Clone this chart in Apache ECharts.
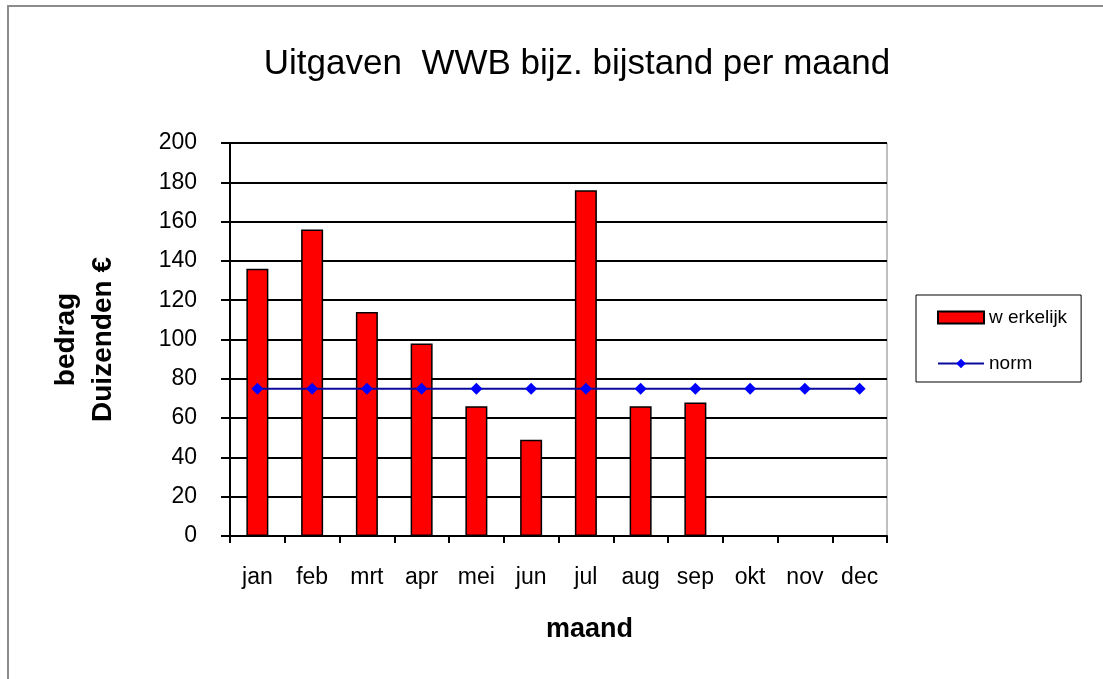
<!DOCTYPE html>
<html>
<head>
<meta charset="utf-8">
<script src="https://cdn.jsdelivr.net/npm/echarts@6/dist/echarts.min.js"></script>
<style>
  html, body { margin: 0; padding: 0; background: #fff; }
  #chart { width: 1103px; height: 679px; }
</style>
</head>
<body>
<div id="chart"></div>
<script>
// maanden
const maanden = ['jan', 'feb', 'mrt', 'apr', 'mei', 'jun', 'jul', 'aug', 'sep', 'okt', 'nov', 'dec'];
// uitgaven werkelijk (duizenden euro), okt-dec nog leeg
const werkelijk = [136, 156, 114, 98, 66, 49, 176, 66, 68, null, null, null];
// norm per maand
const norm = [75, 75, 75, 75, 75, 75, 75, 75, 75, 75, 75, 75];
const yTicks = [0, 20, 40, 60, 80, 100, 120, 140, 160, 180, 200];

const font = 'Liberation Sans, Arial, sans-serif';
const chart = echarts.init(document.getElementById('chart'));

const option = {
  backgroundColor: '#fff',
  animation: false,
  textStyle: { fontFamily: font, color: '#000' },
  title: {
    text: 'Uitgaven  WWB bijz. bijstand per maand',
    left: 572,
    textAlign: 'center',
    top: 42,
    textStyle: { fontFamily: font, fontSize: 35, fontWeight: 'normal', color: '#000' }
  },
  graphic: [
    {
      type: 'rect',
      shape: { x: 8, y: 6, width: 1110, height: 700 },
      style: { fill: null, stroke: '#8c8c8c', lineWidth: 2 },
      z: 0
    }
  ],
  legend: {
    orient: 'vertical',
    left: 916,
    top: 295,
    padding: [13, 14, 9, 21],
    itemGap: 27,
    itemWidth: 46,
    itemHeight: 12,
    borderColor: '#000',
    borderWidth: 1,
    textStyle: { fontFamily: font, fontSize: 19, color: '#000' },
    data: [
      { name: 'w erkelijk', icon: 'rect' },
      { name: 'norm' }
    ]
  },
  grid: { left: 230, right: 216, top: 143, bottom: 143, show: true, borderColor: '#808080', borderWidth: 1, backgroundColor: '#fff' },
  xAxis: {
    type: 'category',
    data: maanden,
    boundaryGap: true,
    name: 'maand',
    nameLocation: 'middle',
    nameGap: 80,
    nameTextStyle: { fontFamily: font, fontSize: 27, fontWeight: 'bold', color: '#000', padding: [0, 0, 0, 62] },
    axisLine: { lineStyle: { color: '#000', width: 2 } },
    axisTick: { show: true, length: 7, lineStyle: { color: '#000', width: 2 } },
    axisLabel: { fontFamily: font, fontSize: 23, color: '#000', margin: 30 }
  },
  yAxis: {
    type: 'value',
    min: yTicks[0],
    max: yTicks[yTicks.length - 1],
    interval: 20,
    name: 'bedrag\nDuizenden €',
    nameLocation: 'middle',
    nameRotate: 90,
    nameGap: 108,
    nameTextStyle: { fontFamily: font, fontSize: 28, fontWeight: 'bold', color: '#000', lineHeight: 37 },
    axisLine: { show: true, lineStyle: { color: '#000', width: 2 } },
    axisTick: { show: true, length: 9, lineStyle: { color: '#000', width: 2 } },
    axisLabel: { fontFamily: font, fontSize: 23, color: '#000', margin: 33 },
    splitLine: { show: true, lineStyle: { color: '#000', width: 2 } }
  },
  series: [
    {
      name: 'w erkelijk',
      type: 'bar',
      data: werkelijk,
      barWidth: 22,
      itemStyle: { color: '#ff0000', borderColor: '#000', borderWidth: 1.5 },
      z: 2
    },
    {
      name: 'norm',
      type: 'line',
      data: norm,
      symbol: 'diamond',
      symbolSize: 12,
      lineStyle: { color: '#0a0a9c', width: 2 },
      itemStyle: { color: '#0000ff' },
      z: 3
    }
  ]
};

chart.setOption(option);
</script>
</body>
</html>
